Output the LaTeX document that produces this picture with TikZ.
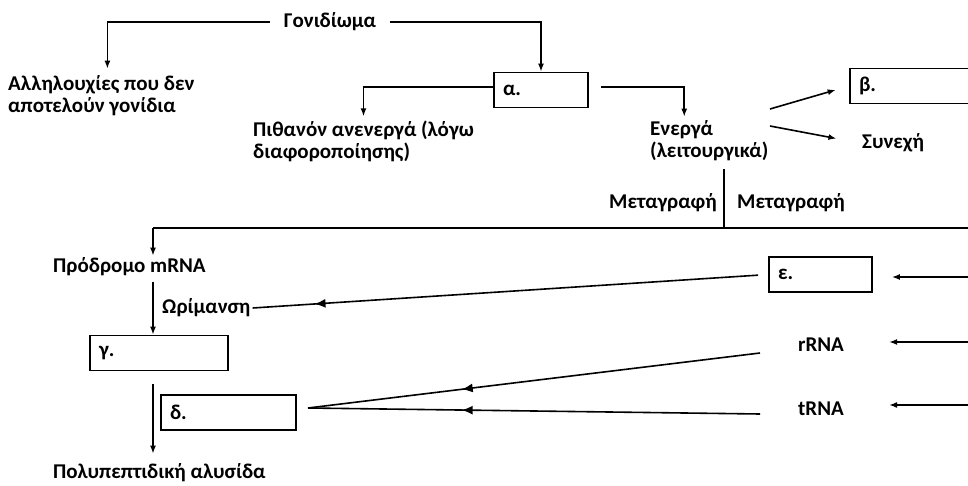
\documentclass[tikz,border=0pt]{standalone}
\usepackage{fontspec}
\setmainfont{Carlito}
\tikzstyle{lbl}=[font=\bfseries\fontsize{21}{22}\selectfont,inner sep=2pt,align=left]
\tikzstyle{gapbox}=[rectangle,draw=black,line width=1.7pt,minimum height=35pt,
inner xsep=9pt,font=\bfseries\fontsize{21}{22}\selectfont,align=left]
\tikzstyle{wire}=[line width=1.6pt]
\usetikzlibrary{arrows.meta,positioning,decorations.markings}
\tikzset{midarrow/.style={postaction={decorate,decoration={markings,
  mark=at position #1 with {\arrow{Latex[length=11pt,width=9pt]}}}}}}
\begin{document}
\begin{tikzpicture}[x=1pt,y=-1pt,>={Latex[length=8pt,width=6pt]}]
            \useasboundingbox (0,0) rectangle (968,486);

            % GENOME PART

            \node[lbl,inner xsep=14pt] (gen) at (330,22) {Γονιδίωμα};
            \node[lbl,anchor=west] (seq) at (6,96) {Αλληλουχίες που δεν\\αποτελούν γονίδια};
            \node[gapbox,text width=76pt] (alpha) at (541,90) {α.};
            \node[lbl,anchor=west] (inact) at (251,141) {Πιθανόν ανενεργά (λόγω\\διαφοροποίησης)};
            \node[lbl,anchor=west] (act) at (648,141) {Ενεργά\\(λειτουργικά)};
            \node[gapbox,text width=112pt] (beta) at (915,86) {β.};
            \node[lbl,anchor=west] (syn) at (860,143) {Συνεχή};

            \draw[wire,->,shorten >=5pt] (gen.west) -| ([xshift=6pt]seq.north);
            \draw[wire,->] (gen.east) -| (alpha.north);
            \draw[wire,->,shorten >=2pt] ([yshift=3pt]alpha.west) -| (inact.north);
            \draw[wire,->,shorten <=12pt,shorten >=2pt] ([yshift=3pt]alpha.east) -| ([xshift=-25pt]act.north);

            \coordinate (fork1) at (770,109);
            \coordinate (fork2) at (770,126);
            \path[wire,->] (fork1) edge[shorten >=14pt] node {} (beta.west);
            \path[wire,->] (fork2) edge[shorten >=24pt] node {} (syn.west);

            % TRANSCRIPTION PART

            \coordinate (tr) at (724,169);
            \coordinate (busL) at (153,228);
            \coordinate (busR) at (975,228);
            \node[lbl,anchor=east] (metaL) at (719,203) {Μεταγραφή};
            \node[lbl,anchor=west] (metaR) at (735,203) {Μεταγραφή};

            \draw[wire] (busL) -- (busR);
            \draw[wire] (tr) -- (tr |- busL);

            % TRANSLATION PART

            \node[lbl,anchor=west] (pre) at (51,267) {Πρόδρομο mRNA};
            \node[lbl,anchor=west] (wri) at (160,308) {Ωρίμανση};
            \node[gapbox,text width=120pt] (gamma) at (159,353) {γ.};
            \node[gapbox,text width=117pt] (delta) at (228.5,412.5) {δ.};
            \node[lbl,anchor=west] (poly) at (51,473) {Πολυπεπτιδική αλυσίδα};
            \node[gapbox,text width=85pt] (eps) at (820.5,274.5) {ε.};
            \node[lbl] (rrna) at (821,345) {rRNA};
            \node[lbl] (trna) at (821,409) {tRNA};

            \draw[wire,->] (busL) -- (pre.north -| busL);
            \draw[wire,->,shorten <=4pt] (pre.south -| busL) -- (gamma.north -| busL);
            \draw[wire,->,shorten <=13pt,shorten >=8pt] (gamma.south -| busL) -- (poly.north -| busL);

            \draw[wire,midarrow=0.88,shorten <=10pt] (eps.west) -- (wri.east);

            \coordinate (rstart) at (760,353);
            \coordinate (tstart) at (760,414);
            \coordinate (dfork) at (308,408);
            \draw[wire,midarrow=0.66] (rstart) -- (dfork);
            \draw[wire,midarrow=0.66] (tstart) -- (dfork);

            % INCOMING PART

            \coordinate (inE) at (975,277);
            \coordinate (inR) at (975,342);
            \coordinate (inT) at (975,405);
            \draw[wire,->,shorten >=19pt] (inE) -- (inE -| eps.east);
            \draw[wire,->,shorten >=43pt] (inR) -- (inR -| rrna.east);
            \draw[wire,->,shorten >=43pt] (inT) -- (inT -| trna.east);

        \end{tikzpicture}
\end{document}
